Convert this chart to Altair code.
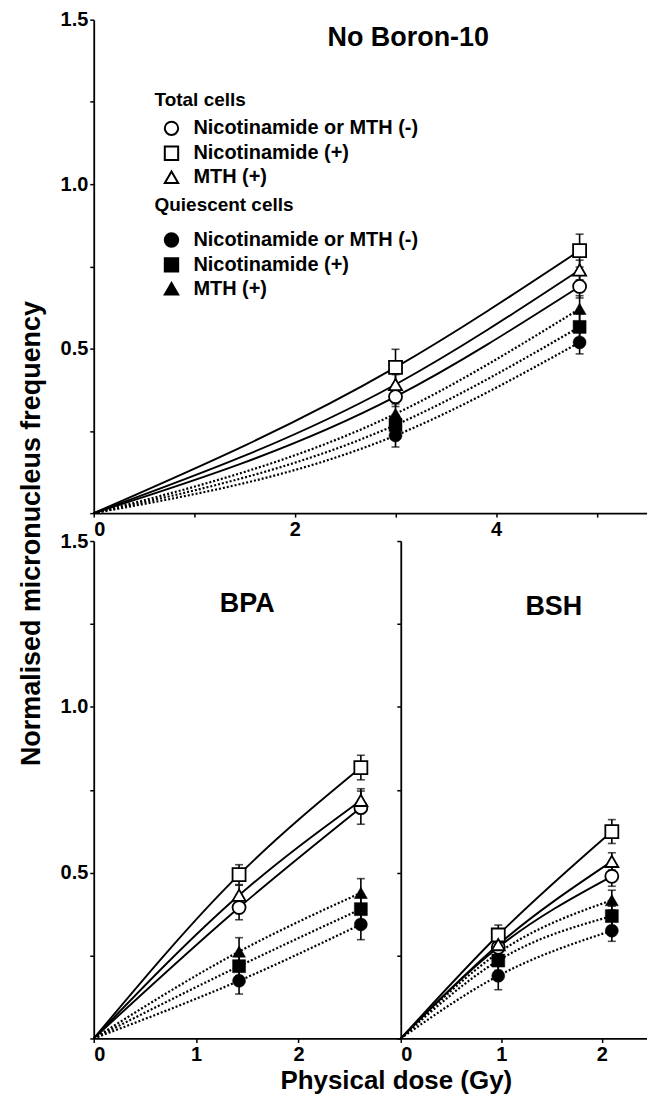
import altair as alt
import pandas as pd

FONT = "Liberation Sans"

series = ["Nicotinamide or MTH (-)", "Nicotinamide (+)", "MTH (+)"]
shape_range = ["circle", "square", "triangle-up"]

# ---- No Boron-10 panel ----
top_dose = [3.0, 4.83]
top_total_vals = [[0.354, 0.689], [0.443, 0.798], [0.391, 0.739]]
top_total_errs = [[0.03, 0.035], [0.055, 0.05], [0.03, 0.03]]
top_quies_vals = [[0.236, 0.519], [0.268, 0.566], [0.302, 0.621]]
top_quies_errs = [[0.035, 0.035], [0.03, 0.04], [0.03, 0.04]]

# ---- BPA panel ----
bpa_dose = [1.42, 2.61]
bpa_total_vals = [[0.395, 0.696], [0.494, 0.817], [0.432, 0.718]]
bpa_total_errs = [[0.037, 0.05], [0.03, 0.037], [0.03, 0.035]]
bpa_quies_vals = [[0.174, 0.344], [0.218, 0.390], [0.262, 0.439]]
bpa_quies_errs = [[0.04, 0.046], [0.03, 0.035], [0.042, 0.043]]

# ---- BSH panel ----
bsh_dose = [0.97, 2.1]
bsh_total_vals = [[0.275, 0.489], [0.312, 0.624], [0.283, 0.534]]
bsh_total_errs = [[0.03, 0.03], [0.03, 0.036], [0.03, 0.026]]
bsh_quies_vals = [[0.189, 0.325], [0.235, 0.369], [0.258, 0.417]]
bsh_quies_errs = [[0.042, 0.032], [0.03, 0.03], [0.03, 0.03]]

y_ticks = [0, 0.25, 0.5, 0.75, 1.0, 1.25, 1.5]
top_x_ticks = [0, 1, 2, 3, 4, 5]
bottom_x_ticks = [0, 1, 2]


def build(dose, tv, te, qv, qe):
    rows, lrows = [], []
    for grp, vals, errs in (("Total", tv, te), ("Quiescent", qv, qe)):
        for s, v, e in zip(series, vals, errs):
            lrows.append(dict(dose=0.0, value=0.0, series=s, group=grp))
            for d, yv, ye in zip(dose, v, e):
                rows.append(dict(dose=d, value=yv, lo=yv - ye, hi=yv + ye, series=s, group=grp))
                lrows.append(dict(dose=d, value=yv, series=s, group=grp))
    return pd.DataFrame(rows), pd.DataFrame(lrows)


AX = dict(grid=False, tickSize=4, tickWidth=1.5, domainWidth=1.8, domainColor="black",
          tickColor="black", labelFont=FONT, labelFontSize=20, labelFontWeight="bold",
          labelColor="black", labelPadding=2)
TITLE = dict(titleFont=FONT, titleFontSize=27, titleFontWeight="bold", titleColor="black",
             titleAlign="center", titleBaseline="middle")


def y_axis(labels, title=None, tx=0, ty=0):
    a = dict(AX, values=y_ticks)
    if labels:
        a["labelExpr"] = "datum.value > 0 && datum.value % 0.5 === 0 ? format(datum.value, '.1f') : ''"
    else:
        a["labels"] = False
    if title:
        a.update(TITLE, title=title, titleX=tx, titleY=ty, titleAngle=270)
    else:
        a["title"] = None
    return alt.Axis(**a)


def x_axis(values, expr, title=None, tx=0, ty=0):
    a = dict(AX, values=values, labelExpr=expr)
    if title:
        a.update(TITLE, title=title, titleX=tx, titleY=ty, titleFontSize=26)
    else:
        a["title"] = None
    return alt.Axis(**a)


def legend(title, ly, tpad):
    return alt.Legend(title=title, orient="none", legendX=61, legendY=ly,
                      titleFont=FONT, titleFontSize=19, titleFontWeight="bold", titleColor="black",
                      labelFont=FONT, labelFontSize=20, labelFontWeight="bold", labelColor="black",
                      labelLimit=0, titleLimit=0,
                      symbolSize=180, symbolStrokeWidth=2,
                      symbolOffset=7, labelOffset=12, rowPadding=3,
                      titlePadding=tpad, padding=0)


def panel(dose, tv, te, qv, qe, xmax, width, height, xax, yax, title, dx, dy, legends):
    pts, lines = build(dose, tv, te, qv, qe)
    xs = alt.Scale(domain=[0, xmax], nice=False)
    ys = alt.Scale(domain=[0, 1.5], nice=False)
    X = alt.X("dose:Q", scale=xs, axis=xax)

    def Y(f):
        return alt.Y(f, type="quantitative", scale=ys, axis=yax)

    base = alt.Chart(pts)
    err = base.mark_rule(color="black", strokeWidth=1.6).encode(x=X, y=Y("lo"), y2="hi:Q")
    cap_hi = base.mark_tick(orient="horizontal", size=8, thickness=1.6, color="black").encode(x=X, y=Y("hi"))
    cap_lo = base.mark_tick(orient="horizontal", size=8, thickness=1.6, color="black").encode(x=X, y=Y("lo"))
    lbase = alt.Chart(lines)
    solid = lbase.transform_filter(alt.datum.group == "Total").mark_line(
        interpolate="monotone", color="black", strokeWidth=1.9).encode(x=X, y=Y("value"), detail="series:N")
    dotted = lbase.transform_filter(alt.datum.group == "Quiescent").mark_line(
        interpolate="monotone", color="black", strokeWidth=2.2, strokeDash=[2, 2]).encode(
        x=X, y=Y("value"), detail="series:N")
    sc = alt.Scale(domain=series, range=shape_range)
    if legends:
        sh_t = alt.Shape("series:N", scale=sc, legend=legend("Total cells", 72, 8))
        sh_q = alt.Shape("series:N", scale=sc, legend=legend("Quiescent cells", 177, 15))
    else:
        sh_t = alt.Shape("series:N", scale=sc, legend=None)
        sh_q = alt.Shape("series:N", scale=sc, legend=None)
    filled = base.transform_filter(alt.datum.group == "Quiescent").mark_point(
        filled=True, size=170, opacity=1).encode(
        x=X, y=Y("value"), shape=sh_q, fill=alt.value("black"), stroke=alt.value("black"),
        strokeWidth=alt.value(0.5))
    opened = base.transform_filter(alt.datum.group == "Total").mark_point(
        filled=True, size=170, opacity=1).encode(
        x=X, y=Y("value"), shape=sh_t, fill=alt.value("white"), stroke=alt.value("black"),
        strokeWidth=alt.value(1.8))
    return alt.layer(err, cap_hi, cap_lo, solid, dotted, filled, opened).resolve_scale(
        shape="independent").properties(
        width=width, height=height,
        title=alt.TitleParams(title, anchor="middle", font=FONT, fontSize=27, fontWeight="bold",
                              color="black", baseline="middle", offset=0, dx=dx, dy=dy))


top = panel(top_dose, top_total_vals, top_total_errs, top_quies_vals, top_quies_errs,
            5.5, 555, 495,
            x_axis(top_x_ticks, "datum.value % 2 === 0 ? format(datum.value, 'd') : ''"),
            y_axis(True, "Normalised micronucleus frequency", -62, 515),
            "No Boron-10", 38, 55, True)

bpa = panel(bpa_dose, bpa_total_vals, bpa_total_errs, bpa_quies_vals, bpa_quies_errs,
            3.0, 308, 499,
            x_axis(bottom_x_ticks, "format(datum.value, 'd')", "Physical dose (Gy)", 303, 42),
            y_axis(True),
            "BPA", 0, 100, False)

bsh = panel(bsh_dose, bsh_total_vals, bsh_total_errs, bsh_quies_vals, bsh_quies_errs,
            2.45, 247, 499,
            x_axis(bottom_x_ticks, "format(datum.value, 'd')"),
            y_axis(False),
            "BSH", 30, 94, False)

bottom = alt.hconcat(bpa, bsh, spacing=0, bounds="flush").resolve_scale(shape="independent")

chart = alt.vconcat(top, bottom, spacing=28, bounds="flush").resolve_scale(
    shape="independent").properties(
    padding={"left": 9, "top": 0, "right": 0, "bottom": 0},
    background="white").configure_view(stroke=None)

chart.save("out.html", embed_options={"renderer": "svg", "actions": False})
